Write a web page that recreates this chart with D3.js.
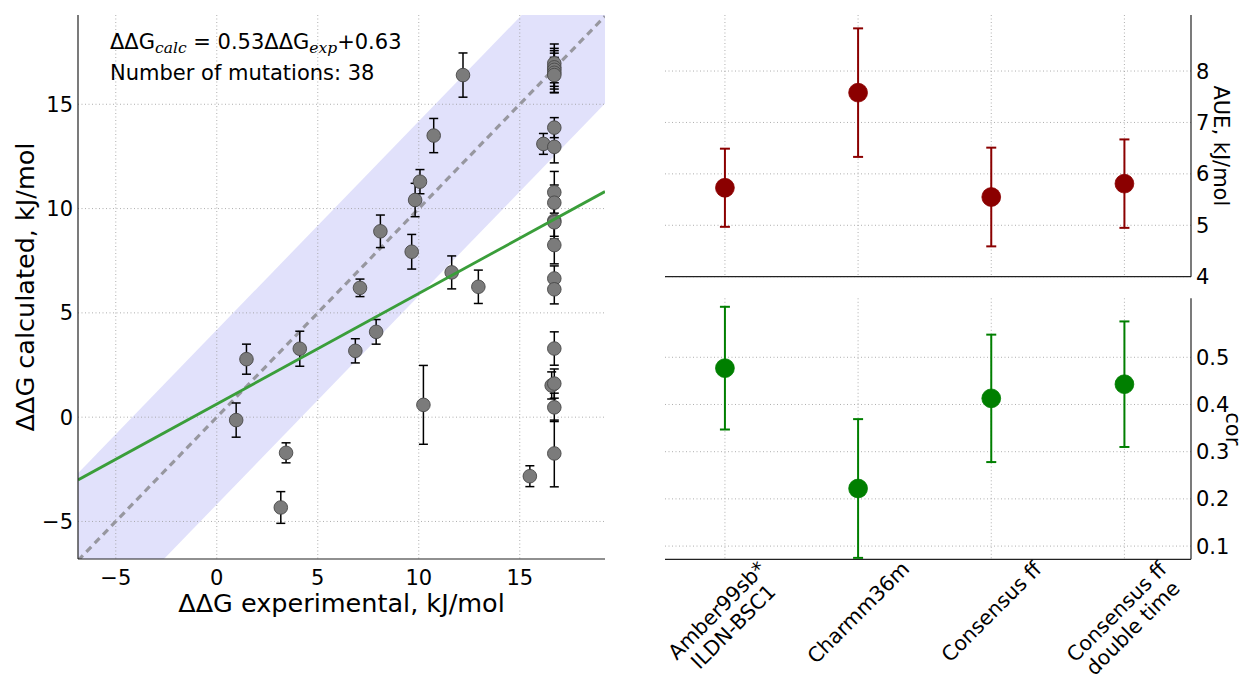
<!DOCTYPE html>
<html>
<head>
<meta charset="utf-8">
<script src="https://cdn.jsdelivr.net/npm/d3@7"></script>
<style>
  html, body { margin: 0; padding: 0; background: #fff; }
  svg { display: block; font-family: "DejaVu Sans", sans-serif; }
</style>
</head>
<body>
<svg id="chart" width="1247" height="683"></svg>
<script>
// ---- Scatter: calculated vs experimental ΔΔG (kJ/mol) ----
const expValues = [0.96, 1.47, 3.17, 3.43, 4.11, 6.86, 7.09, 7.89, 8.10, 9.65,
  9.82, 10.06, 10.23, 10.74, 11.63, 12.19, 12.95, 15.50, 16.17, 16.58,
  16.71, 16.71, 16.71, 16.71, 16.71, 16.71, 16.71, 16.71, 16.71, 16.71,
  16.71, 16.71, 16.71, 16.71, 16.71, 16.71, 16.71, 16.71];
const calcValues = [-0.14, 2.78, -4.33, -1.71, 3.28, 3.18, 6.20, 4.09, 8.91, 7.93,
  10.41, 11.29, 0.59, 13.50, 6.94, 16.40, 6.25, -2.83, 13.10, 1.52,
  16.96, 16.77, 16.65, 16.51, 16.40, 13.88, 12.96, 10.78, 10.28, 9.42,
  9.34, 8.25, 6.65, 6.13, 3.29, 1.61, 0.47, -1.74];
const calcErrors = [0.82, 0.72, 0.76, 0.48, 0.84, 0.58, 0.42, 0.59, 0.78, 0.83,
  0.80, 0.58, 1.89, 0.82, 0.79, 1.06, 0.80, 0.50, 0.50, 0.65,
  0.93, 0.91, 0.92, 0.94, 0.85, 0.48, 0.77, 1.00, 0.85, 0.75,
  0.80, 0.90, 0.60, 0.70, 0.80, 0.70, 0.68, 1.60];
const fitSlope = 0.53;
const fitIntercept = 0.63;
const bandHalfWidth = 4.184;           // ±1 kcal/mol around the diagonal
const scatterXDomain = [-6.87, 19.22];
const scatterYDomain = [-6.80, 19.28];
const scatterXTicks = [-5, 0, 5, 10, 15];
const scatterYTicks = [-5, 0, 5, 10, 15];

// ---- Force-field summary panels ----
const forceFields = [["Amber99sb*", "ILDN-BSC1"], ["Charmm36m"], ["Consensus ff"], ["Consensus ff", "double time"]];
const aueValues = [5.73, 7.58, 5.55, 5.81];
const aueErrors = [0.76, 1.25, 0.96, 0.86];
const corValues = [0.477, 0.222, 0.413, 0.443];
const corErrors = [0.130, 0.147, 0.135, 0.133];
const aueTicks = [4, 5, 6, 7, 8];
const corTicks = [0.1, 0.2, 0.3, 0.4, 0.5];
const aueDomain = [4, 9.09];
const corDomain = [0.072, 0.625];
const catDomain = [-0.45, 3.5];

const svg = d3.select("#chart");
const fmtMinus = v => String(v).replace("-", "\u2212");
const TICK_FS = 21;

// =================== Left scatter ===================
const L = { left: 78, right: 605, top: 15, bottom: 559 };
const xs = d3.scaleLinear().domain(scatterXDomain).range([L.left, L.right]);
const ys = d3.scaleLinear().domain(scatterYDomain).range([L.bottom, L.top]);

svg.append("clipPath").attr("id", "clipL").append("rect")
  .attr("x", L.left).attr("y", L.top)
  .attr("width", L.right - L.left).attr("height", L.bottom - L.top);

const gL = svg.append("g");
const plotL = gL.append("g").attr("clip-path", "url(#clipL)");

// shaded ±1 kcal/mol band
const x0 = scatterXDomain[0], x1 = scatterXDomain[1];
const bandPts = [[x0, x0 - bandHalfWidth], [x1, x1 - bandHalfWidth], [x1, x1 + bandHalfWidth], [x0, x0 + bandHalfWidth]];
plotL.append("path")
  .attr("d", d3.line().x(d => xs(d[0])).y(d => ys(d[1]))(bandPts) + "Z")
  .attr("fill", "#e1e1fb");

// grid
const gridStyle = sel => sel.attr("stroke", "#9a9a9a").attr("stroke-width", 0.8).attr("stroke-dasharray", "1,2.5");
plotL.selectAll(".gx").data(scatterXTicks).join("line")
  .attr("x1", d => xs(d)).attr("x2", d => xs(d)).attr("y1", L.top).attr("y2", L.bottom).call(gridStyle);
plotL.selectAll(".gy").data(scatterYTicks).join("line")
  .attr("y1", d => ys(d)).attr("y2", d => ys(d)).attr("x1", L.left).attr("x2", L.right).call(gridStyle);

// y = x diagonal
plotL.append("line")
  .attr("x1", xs(x0)).attr("y1", ys(x0)).attr("x2", xs(x1)).attr("y2", ys(x1))
  .attr("stroke", "#97979f").attr("stroke-width", 3.2).attr("stroke-dasharray", "7,5");

// error bars
const pts = expValues.map((x, i) => ({ x, y: calcValues[i], e: calcErrors[i] }));
const eb = plotL.append("g").attr("stroke", "#000").attr("stroke-width", 1.5);
pts.forEach(p => {
  const cx = xs(p.x), yt = ys(p.y + p.e), yb = ys(p.y - p.e);
  eb.append("line").attr("x1", cx).attr("x2", cx).attr("y1", yt).attr("y2", yb);
  eb.append("line").attr("x1", cx - 4.5).attr("x2", cx + 4.5).attr("y1", yt).attr("y2", yt);
  eb.append("line").attr("x1", cx - 4.5).attr("x2", cx + 4.5).attr("y1", yb).attr("y2", yb);
});
// points
plotL.append("g").selectAll("circle").data(pts).join("circle")
  .attr("cx", d => xs(d.x)).attr("cy", d => ys(d.y)).attr("r", 6.8)
  .attr("fill", "#7b7b7b").attr("stroke", "#474747").attr("stroke-width", 0.9);

// fitted line
plotL.append("line")
  .attr("x1", xs(x0)).attr("y1", ys(fitSlope * x0 + fitIntercept))
  .attr("x2", xs(x1)).attr("y2", ys(fitSlope * x1 + fitIntercept))
  .attr("stroke", "#3a9e3a").attr("stroke-width", 2.8);

// spines
gL.append("line").attr("x1", L.left).attr("x2", L.left).attr("y1", L.top).attr("y2", L.bottom).attr("stroke", "#222").attr("stroke-width", 1.2);
gL.append("line").attr("x1", L.left).attr("x2", L.right).attr("y1", L.bottom).attr("y2", L.bottom).attr("stroke", "#222").attr("stroke-width", 1.2);

// tick labels
gL.selectAll(".xt").data(scatterXTicks).join("text")
  .attr("x", d => xs(d)).attr("y", L.bottom + 26).attr("text-anchor", "middle")
  .attr("font-size", TICK_FS).attr("fill", "#000").text(fmtMinus);
gL.selectAll(".yt").data(scatterYTicks).join("text")
  .attr("x", L.left - 5).attr("y", d => ys(d) + 7.5).attr("text-anchor", "end")
  .attr("font-size", TICK_FS).attr("fill", "#000").text(fmtMinus);

// axis labels
gL.append("text").attr("x", (L.left + L.right) / 2).attr("y", 612).attr("text-anchor", "middle")
  .attr("font-size", 25.5).text("ΔΔG experimental, kJ/mol");
gL.append("text").attr("transform", `translate(34,${(L.top + L.bottom) / 2}) rotate(-90)`)
  .attr("text-anchor", "middle").attr("font-size", 25.5).text("ΔΔG calculated, kJ/mol");

// annotation
const ANN_FS = 21, SUB_FS = 15.5;
const ann = gL.append("text").attr("x", 110).attr("y", 49).attr("font-size", ANN_FS);
ann.append("tspan").text("ΔΔG");
ann.append("tspan").attr("dy", 4).attr("font-family", "DejaVu Serif").attr("font-style", "italic").attr("font-size", SUB_FS).text("calc");
ann.append("tspan").attr("dy", -4).text(` = ${fitSlope.toFixed(2)}ΔΔG`);
ann.append("tspan").attr("dy", 4).attr("font-family", "DejaVu Serif").attr("font-style", "italic").attr("font-size", SUB_FS).text("exp");
ann.append("tspan").attr("dy", -4).text(`+${fitIntercept.toFixed(2)}`);
gL.append("text").attr("x", 110).attr("y", 80).attr("font-size", ANN_FS).text(`Number of mutations: ${expValues.length}`);

// =================== Right panels ===================
const R = { left: 665, right: 1191 };
const xc = d3.scaleLinear().domain(catDomain).range([R.left, R.right]);
const cats = forceFields.map((_, i) => i);

function panel(top, bottom, domain, ticks, values, errors, color, label, labelX, tickFmt) {
  const y = d3.scaleLinear().domain(domain).range([bottom, top]);
  const g = svg.append("g");
  g.selectAll(".gv").data(cats).join("line")
    .attr("x1", d => xc(d)).attr("x2", d => xc(d)).attr("y1", top).attr("y2", bottom).call(gridStyle);
  g.selectAll(".gh").data(ticks).join("line")
    .attr("x1", R.left).attr("x2", R.right).attr("y1", d => y(d)).attr("y2", d => y(d)).call(gridStyle);
  // spines: right and bottom
  g.append("line").attr("x1", R.right).attr("x2", R.right).attr("y1", top).attr("y2", bottom).attr("stroke", "#222").attr("stroke-width", 1.2);
  g.append("line").attr("x1", R.left).attr("x2", R.right).attr("y1", bottom).attr("y2", bottom).attr("stroke", "#222").attr("stroke-width", 1.2);
  // error bars
  const eg = g.append("g").attr("stroke", color).attr("stroke-width", 2);
  cats.forEach(i => {
    const cx = xc(i), yt = y(values[i] + errors[i]), yb = y(values[i] - errors[i]);
    eg.append("line").attr("x1", cx).attr("x2", cx).attr("y1", yt).attr("y2", yb);
    eg.append("line").attr("x1", cx - 5).attr("x2", cx + 5).attr("y1", yt).attr("y2", yt);
    eg.append("line").attr("x1", cx - 5).attr("x2", cx + 5).attr("y1", yb).attr("y2", yb);
  });
  g.selectAll("circle").data(cats).join("circle")
    .attr("cx", d => xc(d)).attr("cy", d => y(values[d])).attr("r", 9.4)
    .attr("fill", color).attr("stroke", color).attr("stroke-width", 0.8);
  // right tick labels
  g.selectAll(".tl").data(ticks).join("text")
    .attr("x", R.right + 5).attr("y", d => y(d) + 7.5)
    .attr("font-size", TICK_FS).text(tickFmt);
  g.append("text").attr("transform", `translate(${labelX},${(top + bottom) / 2}) rotate(90)`)
    .attr("text-anchor", "middle").attr("font-size", 21).text(label);
}

panel(15, 276.7, aueDomain, aueTicks, aueValues, aueErrors, "#8b0000", "AUE, kJ/mol", 1214, d => d3.format("d")(d));
panel(298.3, 559.3, corDomain, corTicks, corValues, corErrors, "#007f00", "cor", 1226, d => d3.format(".1f")(d));

// rotated category labels under the lower panel
const CAT_FS = 20.5, lh = CAT_FS * 1.12, labelTop = 558;
forceFields.forEach((lines, i) => {
  const g = svg.append("g");
  const t = g.append("text").attr("text-anchor", "middle").attr("font-size", CAT_FS);
  lines.forEach((s, k) => {
    t.append("tspan").attr("x", 0).attr("y", (k - (lines.length - 1) / 2) * lh + 0.36 * CAT_FS).text(s);
  });
  const w = t.node().getBBox().width;
  const h = (lines.length - 1) * lh + CAT_FS * 0.95;
  const half = (w / 2 + h / 2) * Math.SQRT1_2;
  g.attr("transform", `translate(${xc(i)},${labelTop + half}) rotate(-45)`);
});
</script>
</body>
</html>
